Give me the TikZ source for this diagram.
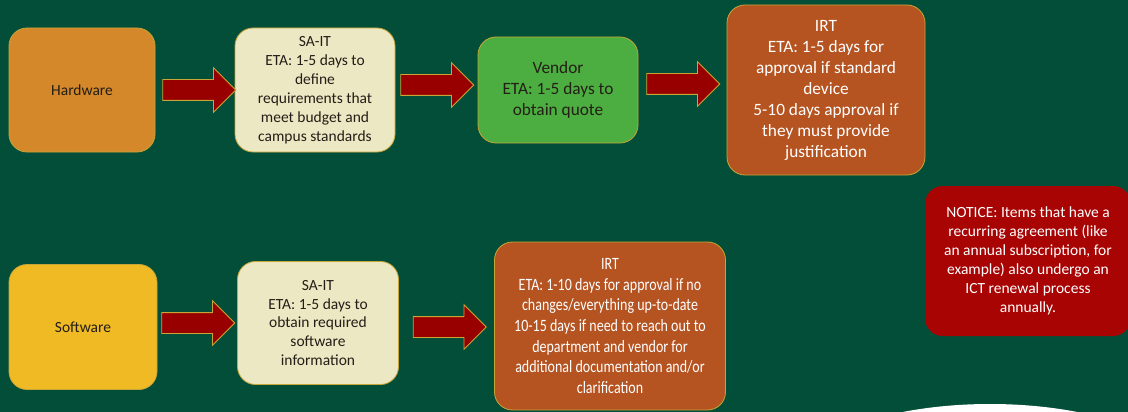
\documentclass[tikz,border=0pt]{standalone}
\usepackage{fontspec}
\setmainfont{Carlito}
\newfontfamily\narrowfont[FakeStretch=0.81]{Carlito}
\usetikzlibrary{shapes.arrows,positioning}

\definecolor{bggreen}{RGB}{2,78,56}
\definecolor{boxgold}{RGB}{200,165,55}
\definecolor{hwfill}{RGB}{212,136,42}
\definecolor{swfill}{RGB}{240,186,36}
\definecolor{creamfill}{RGB}{236,232,196}
\definecolor{vendfill}{RGB}{76,174,64}
\definecolor{irtfill}{RGB}{181,83,33}
\definecolor{notefill}{RGB}{168,4,4}
\definecolor{arrowred}{RGB}{152,0,0}
\definecolor{darktext}{RGB}{35,30,22}

\tikzset{
  box/.style={draw=boxgold, line width=0.8pt, rounded corners=18pt, align=center, inner sep=3pt},
  darkbox/.style={box, text=darktext},
  lightbox/.style={box, text=white},
  midtxt/.style={font=\fontsize{15.5}{18.9}\selectfont},
  bigtxt/.style={font=\fontsize{17.3}{21}\selectfont},
  longtxt/.style={font=\narrowfont\fontsize{17.3}{20.6}\selectfont},
  harrow/.style={single arrow, draw=boxgold, fill=arrowred, line width=0.8pt,
    minimum height=73pt, minimum width=44pt, single arrow head extend=12pt, inner sep=10pt}
}

\begin{document}
\begin{tikzpicture}[x=1pt,y=-1pt]
\fill[bggreen] (0,0) rectangle (1128,412);
\begin{scope}
\clip (0,0) rectangle (1128,412);
\fill[white] (990,484) ellipse (200 and 80);
\end{scope}
\useasboundingbox (0,0) rectangle (1128,412);

% hardware row
\node[darkbox, midtxt, fill=hwfill, minimum width=146pt, minimum height=124pt] (hw) at (82,90) {Hardware};
\node[darkbox, midtxt, fill=creamfill, minimum width=160pt, minimum height=124pt] (sait) at (315,90)
  {SA-IT\\ETA: 1-5 days to\\define\\requirements that\\meet budget and\\campus standards};
\node[darkbox, bigtxt, fill=vendfill, minimum width=160pt, minimum height=106pt] (vendor) at (558,90)
  {Vendor\\ETA: 1-5 days to\\obtain quote};
\node[lightbox, bigtxt, fill=irtfill, minimum width=198pt, minimum height=170pt] (irt) at (826,90)
  {IRT\\ETA: 1-5 days for\\approval if standard\\device\\5-10 days approval if\\they must provide\\justification};

% software row
\node[darkbox, midtxt, fill=swfill, minimum width=148pt, minimum height=125pt] (sw) at (83,327) {Software};
\node[darkbox, midtxt, fill=creamfill, minimum width=161pt, minimum height=123pt] (sait2) at (318,323)
  {SA-IT\\ETA: 1-5 days to\\obtain required\\software\\information};
\node[lightbox, longtxt, fill=irtfill, minimum width=231pt, minimum height=168pt] (irt2) at (610,326)
  {IRT\\ETA: 1-10 days for approval if no\\changes/everything up-to-date\\10-15 days if need to reach out to\\department and vendor for\\additional documentation and/or\\clarification};

\node[lightbox, midtxt, draw=none, fill=notefill, minimum width=206pt, minimum height=150pt] (notice) at (1028,261)
  {NOTICE: Items that have a\\recurring agreement (like\\an annual subscription, for\\example) also undergo an\\ICT renewal process\\annually.};

% block arrows
\node[harrow, right=7pt of hw.east] (ar1) {};
\node[harrow, right=5pt of sait.east, yshift=5pt] (ar2) {};
\node[harrow, right=8pt of vendor.east, yshift=6pt] (ar3) {};
\node[harrow, right=4pt of sw.east, yshift=4pt] (ar4) {};
\node[harrow, right=14pt of sait2.east, yshift=-4pt] (ar5) {};
\end{tikzpicture}
\end{document}
